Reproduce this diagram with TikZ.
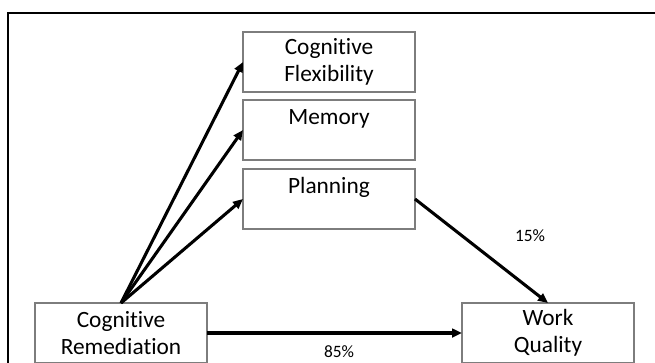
\documentclass[tikz,border=0pt]{standalone}
\usepackage{fontspec}
\setmainfont{Carlito}[Ligatures=NoCommon]
\usepackage{tikz}
\usetikzlibrary{arrows.meta, positioning}
\definecolor{boxgray}{RGB}{125,125,125}

\begin{document}
\begin{tikzpicture}[
  x=0.75pt, y=-0.75pt,
  every node/.style={font=\fontsize{17.5}{20}\selectfont},
  box/.style={rectangle, draw=boxgray, line width=0.8pt, align=center,
    minimum width=129pt, minimum height=45pt, inner sep=0pt, outer sep=0pt},
  pct/.style={font=\fontsize{13}{14}\selectfont},
  arr/.style={-{Triangle[length=7.5pt,width=6.5pt]}, line width=2.3pt},
]
\useasboundingbox (0,0) rectangle (655,362);

%% Frame
\draw[line width=0.8pt] (660,13) -- (8,13) -- (8,370);

%% Mediators
\node[box] (flex) at (329,62) {Cognitive\\Flexibility};
\node[box, below=6pt of flex]   (memory)   {Memory\\~};
\node[box, below=6.75pt of memory] (planning) {Planning\\~};

%% Treatment and outcome
\node[box] (remed) at (121,333) {Cognitive\\Remediation};
\node[box, right=191.25pt of remed] (quality) {Work\\Quality};

%% Paths
\draw[arr] (remed.north) -- (flex.west);
\draw[arr] (remed.north) -- (memory.west);
\draw[arr] (remed.north) -- (planning.west);
\draw[arr] (planning.east) -- (quality.north);
\draw[arr] (remed) -- (quality);

%% Shares
\node[pct] (share15) at (530,236) {15\%};
\node[pct] (share85) at (339,352) {85\%};

\end{tikzpicture}
\end{document}
